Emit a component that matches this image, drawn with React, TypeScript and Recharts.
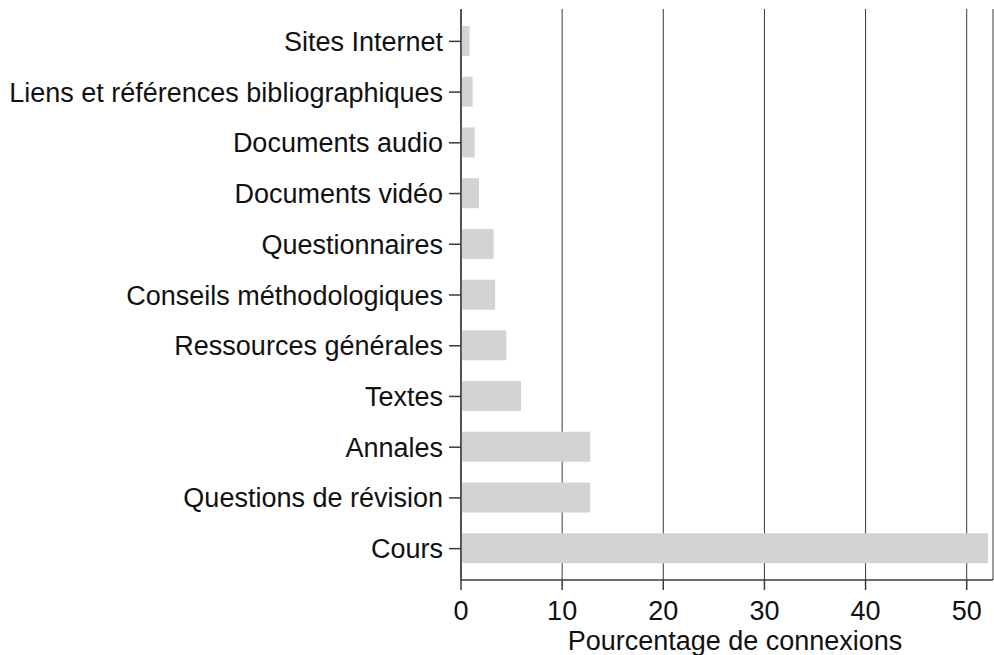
import React from 'react';
import { BarChart, Bar, XAxis, YAxis, CartesianGrid, Label } from 'recharts';

const categories = [
  'Sites Internet',
  'Liens et références bibliographiques',
  'Documents audio',
  'Documents vidéo',
  'Questionnaires',
  'Conseils méthodologiques',
  'Ressources générales',
  'Textes',
  'Annales',
  'Questions de révision',
  'Cours',
];

const percentages = [0.85, 1.15, 1.35, 1.78, 3.23, 3.37, 4.49, 5.94, 12.77, 12.77, 52.1];

const xTicks = [0, 10, 20, 30, 40, 50];

const data = categories.map((name, i) => ({ name, value: percentages[i] }));

const FONT = '"Liberation Sans", Arial, Helvetica, sans-serif';

export default function App() {
  return (
    <div style={{ position: 'absolute', left: 0, top: 0, background: '#fff' }}>
      <BarChart
        width={994}
        height={655}
        data={data}
        layout="vertical"
        margin={{ top: 9, right: 1, bottom: 0, left: 0 }}
        barCategoryGap="40%"
      >
        <CartesianGrid horizontal={false} vertical={true} stroke="#3a3a3a" strokeWidth={1} />
        <XAxis
          type="number"
          domain={[0, 52.6]}
          ticks={xTicks}
          allowDataOverflow
          height={75}
          tickSize={10}
          tickMargin={11}
          axisLine={{ stroke: '#3a3a3a', strokeWidth: 1.5 }}
          tickLine={{ stroke: '#3a3a3a', strokeWidth: 1.5 }}
          tick={{ fill: '#111', fontSize: 27, fontFamily: FONT }}
        >
          <Label
            value="Pourcentage de connexions"
            position="insideBottom"
            offset={5}
            dx={8}
            style={{ fill: '#111', fontSize: 27, fontFamily: FONT }}
          />
        </XAxis>
        <YAxis
          type="category"
          dataKey="name"
          width={461}
          tickSize={12}
          tickMargin={6}
          padding={{ top: 7, bottom: 6 }}
          interval={0}
          axisLine={{ stroke: '#3a3a3a', strokeWidth: 1.5 }}
          tickLine={{ stroke: '#3a3a3a', strokeWidth: 1.5 }}
          tick={{ fill: '#111', fontSize: 27, fontFamily: FONT }}
        />
        <Bar dataKey="value" fill="#d3d3d3" barSize={30} isAnimationActive={false} />
      </BarChart>
    </div>
  );
}
